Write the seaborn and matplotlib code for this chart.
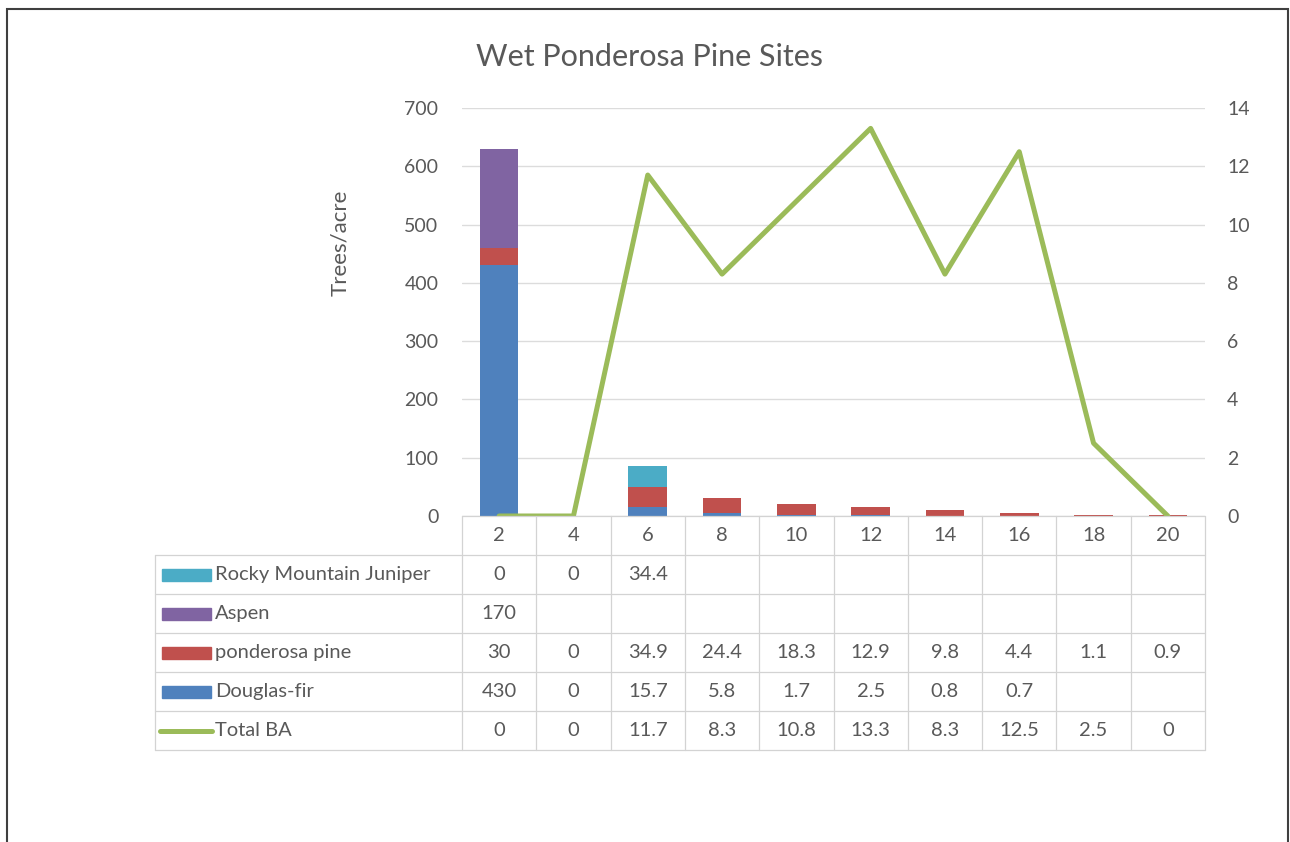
import numpy as np
import pandas as pd
import matplotlib
matplotlib.use("Agg")
import matplotlib.pyplot as plt
import seaborn as sns
from matplotlib.patches import Rectangle
from matplotlib.lines import Line2D

categories = ["2", "4", "6", "8", "10", "12", "14", "16", "18", "20"]
douglas_fir = [430, 0, 15.7, 5.8, 1.7, 2.5, 0.8, 0.7, None, None]
ponderosa = [30, 0, 34.9, 24.4, 18.3, 12.9, 9.8, 4.4, 1.1, 0.9]
aspen = [170, None, None, None, None, None, None, None, None, None]
juniper = [0, 0, 34.4, None, None, None, None, None, None, None]
total_ba = [0, 0, 11.7, 8.3, 10.8, 13.3, 8.3, 12.5, 2.5, 0]

title = "Wet Ponderosa Pine Sites"
y_label = "Trees/acre"

C_DF = "#4F81BD"
C_PP = "#C0504D"
C_AS = "#8064A2"
C_JU = "#4BACC6"
C_BA = "#9BBB59"
TXT = "#595959"
GRID = "#DCDCDC"

sns.set_theme(style="white")
plt.rcParams["font.family"] = ["Lato", "DejaVu Sans"]

def z(v):
    return np.array([0 if x is None else x for x in v], dtype=float)

df_ = z(douglas_fir)
pp_ = z(ponderosa)
as_ = z(aspen)
ju_ = z(juniper)
cum1 = df_
cum2 = cum1 + pp_
cum3 = cum2 + as_
cum4 = cum3 + ju_

data = pd.DataFrame({"size": categories, "c1": cum1, "c2": cum2, "c3": cum3, "c4": cum4,
                     "ba": total_ba, "idx": np.arange(len(categories))})

W, H = 1290, 842
fig = plt.figure(figsize=(W / 100, H / 100), dpi=100)
fig.patch.set_facecolor("white")

L, R, T, B = 462, 1205, 108, 516
ax = fig.add_axes([L / W, 1 - B / H, (R - L) / W, (B - T) / H])

for col, c in [("c4", C_JU), ("c3", C_AS), ("c2", C_PP), ("c1", C_DF)]:
    sns.barplot(data=data, x="size", y=col, color=c, width=0.52, ax=ax,
                saturation=1, order=categories, linewidth=0, zorder=3)

ax.set_ylim(0, 700)
ax.set_xlim(-0.5, len(categories) - 0.5)
ax.set_yticks(np.arange(0, 701, 100))
ax.yaxis.grid(True, color=GRID, linewidth=1)
ax.set_axisbelow(True)
for s in ["top", "right", "left", "bottom"]:
    ax.spines[s].set_visible(False)
ax.set_xticks([])
ax.set_xlabel("")
ax.set_ylabel("")
ax.tick_params(axis="y", length=0, labelsize=14, labelcolor=TXT, pad=17)

ax2 = ax.twinx()
sns.lineplot(data=data, x="idx", y="ba", color=C_BA, linewidth=3.6, ax=ax2, zorder=4)
ax2.set_ylim(0, 14)
ax2.set_xlim(-0.5, len(categories) - 0.5)
ax2.set_yticks(np.arange(0, 15, 2))
ax2.tick_params(axis="y", length=0, labelsize=14, labelcolor=TXT, pad=16)
ax2.set_ylabel("")
ax2.set_xlabel("")
for s in ["top", "right", "left", "bottom"]:
    ax2.spines[s].set_visible(False)

def fx(px):
    return px / W
def fy(py):
    return 1 - py / H

fig.text(fx(650), fy(57), title, ha="center", va="center", fontsize=22, color=TXT)
fig.text(fx(340), fy(243), y_label, ha="center", va="center", rotation=90,
         fontsize=16, color=TXT)

# data table
col_w = (R - L) / len(categories)
row_h = 39
hdr_top = B
rows_top = B + row_h
leg_left = 155
n_rows = 5
bottom = rows_top + n_rows * row_h
lc = "#D3D3D3"
lw = 0.9
fig.add_artist(Line2D([fx(L), fx(R)], [fy(hdr_top), fy(hdr_top)], color=lc, lw=lw))
for i in range(n_rows + 1):
    yy = rows_top + i * row_h
    fig.add_artist(Line2D([fx(leg_left), fx(R)], [fy(yy), fy(yy)], color=lc, lw=lw))
fig.add_artist(Line2D([fx(leg_left), fx(leg_left)], [fy(rows_top), fy(bottom)], color=lc, lw=lw))
for j in range(len(categories) + 1):
    xx = L + j * col_w
    fig.add_artist(Line2D([fx(xx), fx(xx)], [fy(hdr_top), fy(bottom)], color=lc, lw=lw))

FS = 14.5
for j, cat in enumerate(categories):
    fig.text(fx(L + (j + 0.5) * col_w), fy(hdr_top + row_h / 2), cat, ha="center",
             va="center", fontsize=FS, color=TXT)

rows = [("Rocky Mountain Juniper", juniper, C_JU, "bar"),
        ("Aspen", aspen, C_AS, "bar"),
        ("ponderosa pine", ponderosa, C_PP, "bar"),
        ("Douglas-fir", douglas_fir, C_DF, "bar"),
        ("Total BA", total_ba, C_BA, "line")]
for i, (name, vals, c, kind) in enumerate(rows):
    yc = rows_top + (i + 0.5) * row_h
    if kind == "bar":
        fig.add_artist(Rectangle((fx(162), fy(yc + 6)), fx(49), 12 / H, color=c,
                                 transform=fig.transFigure))
    else:
        fig.add_artist(Line2D([fx(160), fx(212)], [fy(yc), fy(yc)], color=c, lw=3.6))
    fig.text(fx(215), fy(yc), name, ha="left", va="center", fontsize=FS, color=TXT)
    for j, v in enumerate(vals):
        if v is None:
            continue
        s = f"{v:g}"
        fig.text(fx(L + (j + 0.5) * col_w), fy(yc), s, ha="center", va="center",
                 fontsize=FS, color=TXT)

# outer frame
fig.add_artist(Rectangle((fx(7), fy(H + 5)), fx(1281), (H + 5 - 9) / H,
                         fill=False, edgecolor="#3F3F3F", lw=1.5, transform=fig.transFigure))

fig.savefig("out.png", dpi=100)
